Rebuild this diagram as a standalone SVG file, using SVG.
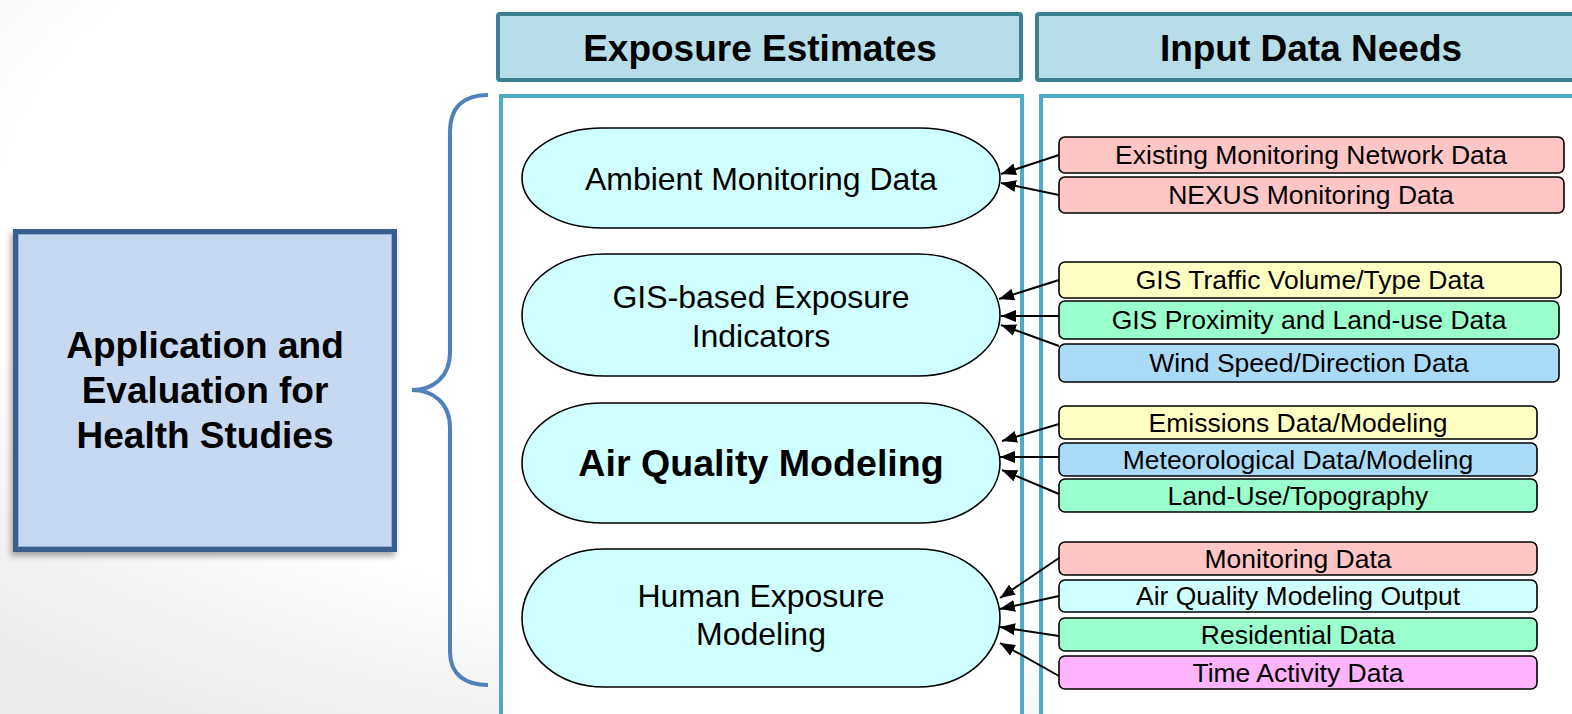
<svg xmlns="http://www.w3.org/2000/svg" width="1572" height="714" viewBox="0 0 1572 714">
<style>
text{font-family:"Liberation Sans",Arial,sans-serif;fill:#000;text-anchor:middle}
.hdr{fill:#b7dde8;stroke:#3b8191;stroke-width:4}
.hdrt{font-size:37px;font-weight:bold}
.panel{fill:#ffffff;stroke:#4bacc6;stroke-width:4}
.ell{fill:#cfffff;stroke:#000;stroke-width:1.6}
.et{font-size:32px}
.box{stroke:#000;stroke-width:1.6}
.bt{font-size:26.5px}
.pink{fill:#ffc6c6}.yel{fill:#ffffc4}.grn{fill:#9affcc}.blu{fill:#a9dbf8}.cya{fill:#cfffff}.mag{fill:#ffb4ff}
.conn line{stroke:#000;stroke-width:2;marker-end:url(#ah)}
</style>
<defs>
<radialGradient id="bg" cx="0.6" cy="0.3" r="0.85">
<stop offset="0.7" stop-color="#ffffff"/>
<stop offset="1" stop-color="#ebebeb"/>
</radialGradient>
<filter id="sh" x="-10%" y="-10%" width="120%" height="125%">
<feDropShadow dx="-2" dy="4" stdDeviation="3" flood-color="#000" flood-opacity="0.35"/>
</filter>
<marker id="ah" markerUnits="userSpaceOnUse" markerWidth="16" markerHeight="12" refX="15" refY="6" orient="auto">
<path d="M0,0 L15,6 L0,12 z" fill="#000"/>
</marker>
</defs>
<rect x="0" y="0" width="1572" height="714" fill="url(#bg)"/>

<g id="header-exposure">
<rect class="hdr" x="498" y="14" width="523" height="66" rx="2"/>
<text class="hdrt" x="760" y="61">Exposure Estimates</text>
</g>
<g id="header-input">
<rect class="hdr" x="1037" y="14" width="560" height="66" rx="2"/>
<text class="hdrt" x="1311" y="61">Input Data Needs</text>
</g>

<g id="panel-exposure"><rect class="panel" x="501" y="96" width="521" height="650"/></g>
<g id="panel-input"><rect class="panel" x="1041" y="96" width="560" height="650"/></g>

<g id="brace">
<path d="M488,95 C466,95 450,105 450,132 L450,352 C450,378 432,390 412,390 C432,390 450,402 450,428 L450,652 C450,675 466,685 488,685" fill="none" stroke="#4f81bd" stroke-width="4"/>
</g>

<g id="application">
<rect x="15.5" y="231.5" width="379" height="318" fill="#c6d9f1" stroke="#3a5f8c" stroke-width="5" filter="url(#sh)"/>
<rect x="18.5" y="234.5" width="373" height="312" fill="none" stroke="#8fb0db" stroke-width="1"/>
<text class="hdrt" x="205" y="358">Application and</text>
<text class="hdrt" x="205" y="403">Evaluation for</text>
<text class="hdrt" x="205" y="448">Health Studies</text>
</g>

<g id="ambient">
<rect class="ell" x="522" y="128" width="478" height="100" rx="80" ry="50"/>
<text class="et" x="761" y="190">Ambient Monitoring Data</text>
</g>
<g id="gis">
<rect class="ell" x="522" y="254" width="478" height="122" rx="82" ry="61"/>
<text class="et" x="761" y="308">GIS-based Exposure</text>
<text class="et" x="761" y="347">Indicators</text>
</g>
<g id="aqm">
<rect class="ell" x="522" y="403" width="478" height="120" rx="80" ry="60"/>
<text x="761" y="476" style="font-size:37.6px;font-weight:bold">Air Quality Modeling</text>
</g>
<g id="human">
<rect class="ell" x="522" y="549" width="478" height="138" rx="82" ry="69"/>
<text class="et" x="761" y="607">Human Exposure</text>
<text class="et" x="761" y="645">Modeling</text>
</g>

<g id="existing"><rect class="box pink" x="1059" y="137" width="505" height="36" rx="6"/><text class="bt" x="1311" y="164">Existing Monitoring Network Data</text></g>
<g id="nexus"><rect class="box pink" x="1059" y="177" width="505" height="36" rx="6"/><text class="bt" x="1311" y="204">NEXUS Monitoring Data</text></g>

<g id="traffic"><rect class="box yel" x="1059" y="262" width="502" height="36" rx="6"/><text class="bt" x="1310" y="289">GIS Traffic Volume/Type Data</text></g>
<g id="proximity"><rect class="box grn" x="1059" y="301" width="500" height="38" rx="6"/><text class="bt" x="1309" y="329">GIS Proximity and Land-use Data</text></g>
<g id="wind"><rect class="box blu" x="1059" y="344" width="500" height="38" rx="6"/><text class="bt" x="1309" y="372">Wind Speed/Direction Data</text></g>

<g id="emissions"><rect class="box yel" x="1059" y="406" width="478" height="33" rx="6"/><text class="bt" x="1298" y="432">Emissions Data/Modeling</text></g>
<g id="meteo"><rect class="box blu" x="1059" y="443" width="478" height="33" rx="6"/><text class="bt" x="1298" y="469">Meteorological Data/Modeling</text></g>
<g id="landuse"><rect class="box grn" x="1059" y="479" width="478" height="33" rx="6"/><text class="bt" x="1298" y="505">Land-Use/Topography</text></g>

<g id="monitoring"><rect class="box pink" x="1059" y="542" width="478" height="33" rx="6"/><text class="bt" x="1298" y="568">Monitoring Data</text></g>
<g id="aqoutput"><rect class="box cya" x="1059" y="580" width="478" height="32" rx="6"/><text class="bt" x="1298" y="605">Air Quality Modeling Output</text></g>
<g id="residential"><rect class="box grn" x="1059" y="618" width="478" height="33" rx="6"/><text class="bt" x="1298" y="644">Residential Data</text></g>
<g id="timeactivity"><rect class="box mag" x="1059" y="656" width="478" height="33" rx="6"/><text class="bt" x="1298" y="682">Time Activity Data</text></g>

<g id="connectors" class="conn">
<line x1="1059" y1="155" x2="1001" y2="174"/>
<line x1="1059" y1="195" x2="1001" y2="183"/>
<line x1="1059" y1="280" x2="999" y2="299"/>
<line x1="1059" y1="316" x2="1001" y2="316"/>
<line x1="1059" y1="346" x2="1001" y2="325"/>
<line x1="1059" y1="424" x2="1002" y2="441"/>
<line x1="1059" y1="457" x2="1000" y2="457"/>
<line x1="1059" y1="494" x2="1002" y2="470"/>
<line x1="1059" y1="558" x2="1000" y2="598"/>
<line x1="1059" y1="596" x2="1000" y2="609"/>
<line x1="1059" y1="636" x2="1000" y2="627"/>
<line x1="1059" y1="676" x2="1000" y2="643"/>
</g>
</svg>
